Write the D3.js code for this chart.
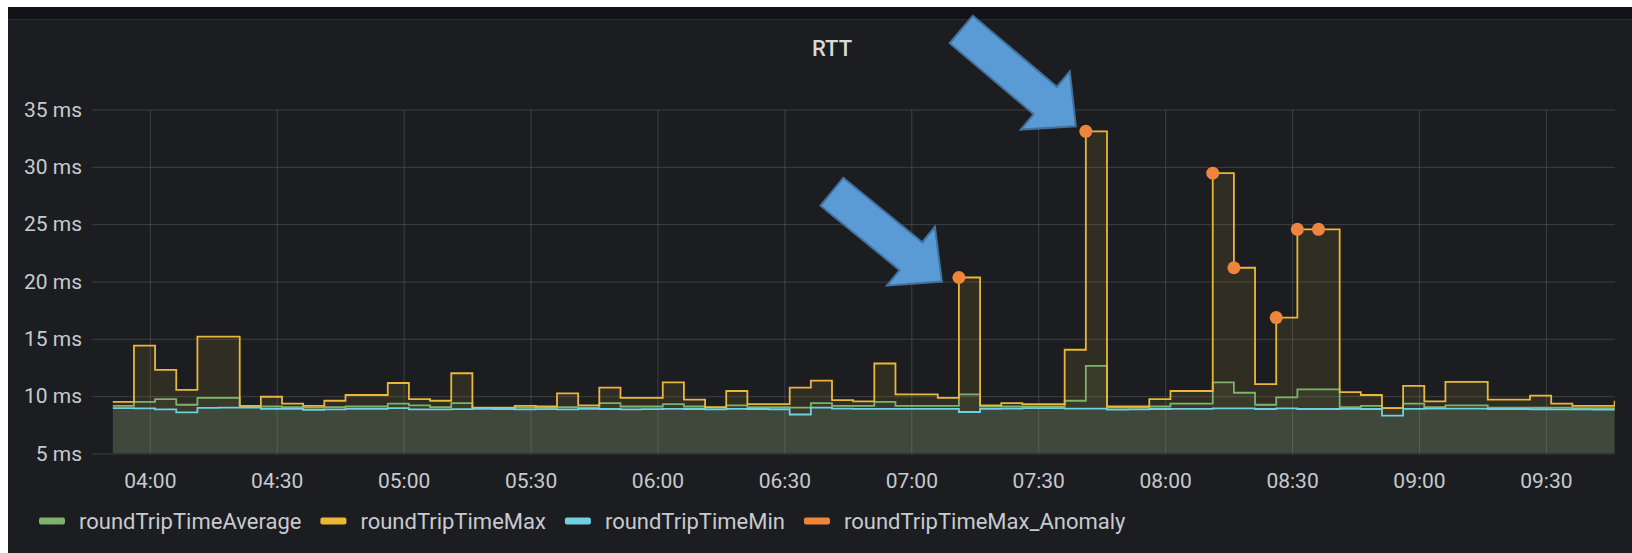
<!DOCTYPE html>
<html>
<head>
<meta charset="utf-8">
<script src="https://cdn.jsdelivr.net/npm/d3@7"></script>
<style>
  body { margin: 0; background: #ffffff; }
  svg { display: block; font-family: Roboto, "Noto Sans", sans-serif; }
</style>
</head>
<body>
<div id="chart"></div>
<script>
// RTT samples, one every 5 minutes, first one at 03:51:15
const firstSample = new Date(2021, 0, 1, 3, 51, 15);
const sampleMinutes = 5;

const rttMax = [9.5, 14.4, 12.3, 10.55, 15.2, 15.2, 9.15, 9.95, 9.35, 9.15,
  9.6, 10.1, 10.1, 11.15, 9.75, 9.6, 12.0, 9.0, 9.0, 9.15,
  9.1, 10.25, 9.2, 10.75, 9.85, 9.85, 11.2, 9.7, 9.05, 10.45,
  9.3, 9.3, 10.75, 11.35, 9.65, 9.55, 12.85, 10.15, 10.15, 9.85,
  20.35, 9.2, 9.4, 9.3, 9.3, 14.05, 33.1, 9.1, 9.1, 9.75,
  10.45, 10.45, 29.45, 21.2, 11.05, 16.85, 24.55, 24.55, 10.35, 10.1,
  8.95, 10.9, 9.55, 11.25, 11.25, 9.7, 9.7, 10.05, 9.35, 9.15,
  9.15, 9.6];

const rttAvg = [9.15, 9.5, 9.75, 9.25, 9.85, 9.85, 9.1, 9.1, 9.05, 9.0,
  9.05, 9.1, 9.1, 9.35, 9.2, 9.05, 9.4, 8.95, 8.95, 9.0,
  9.0, 9.05, 9.0, 9.4, 9.1, 9.1, 9.3, 9.1, 9.0, 9.2,
  9.05, 9.05, 9.0, 9.4, 9.15, 9.15, 9.5, 9.15, 9.15, 9.15,
  10.15, 9.1, 9.1, 9.1, 9.1, 9.6, 12.65, 9.0, 9.0, 9.1,
  9.35, 9.35, 11.2, 10.3, 9.25, 9.9, 10.6, 10.6, 9.05, 9.15,
  8.95, 9.35, 9.05, 9.2, 9.2, 9.0, 9.0, 9.0, 9.0, 8.95,
  8.95, 9.0];

const rttMin = [8.95, 8.93, 8.85, 8.58, 8.98, 9.0, 9.0, 8.9, 8.9, 8.8,
  8.85, 8.9, 8.9, 8.95, 8.85, 8.85, 8.87, 8.9, 8.88, 8.85,
  8.87, 8.85, 8.9, 8.88, 8.85, 8.87, 8.9, 8.88, 8.85, 8.9,
  8.88, 8.86, 8.4, 9.0, 8.92, 8.9, 8.9, 8.9, 8.9, 8.9,
  8.62, 8.9, 8.92, 8.95, 8.95, 8.92, 8.92, 8.82, 8.84, 8.88,
  8.9, 8.9, 8.93, 8.93, 8.88, 8.93, 8.88, 8.88, 8.9, 8.88,
  8.3, 8.9, 8.92, 8.92, 8.92, 8.88, 8.88, 8.86, 8.84, 8.84,
  8.82, 8.82];

// anomaly detector hits (sample index, value)
const anomalyIndex = [40, 46, 52, 53, 55, 56, 57];
const anomalyValues = [20.35, 33.1, 29.45, 21.2, 16.85, 24.55, 24.55];

const yTicks = [5, 10, 15, 20, 25, 30, 35];
const seriesNames = ["roundTripTimeAverage", "roundTripTimeMax", "roundTripTimeMin", "roundTripTimeMax_Anomaly"];
const seriesColors = ["#7EB26D", "#EAB839", "#6ED0E0", "#EF843C"];

// blue call-out arrows pointing at the first two anomalies
const callouts = [
  { anomaly: 0, dx: -17, dy: 4, angle: 39.2, len: 142 },
  { anomaly: 1, dx: -10, dy: -5, angle: 40.2, len: 150 }
];

const W = 1632, H = 553;
const plot = { left: 92, right: 1615, top: 109.5, bottom: 453.5 };

const times = rttMax.map((d, i) => d3.timeMinute.offset(firstSample, i * sampleMinutes));

const svg = d3.select('#chart')
  .append('svg')
  .attr('width', W)
  .attr('height', H);

// panel
svg.append('rect')
  .attr('x', 8).attr('y', 7)
  .attr('width', W - 8).attr('height', H - 7)
  .attr('fill', '#1b1d21');
svg.append('rect')
  .attr('x', 8).attr('y', 7)
  .attr('width', W - 8).attr('height', 12.5)
  .attr('fill', '#121317');
svg.append('line')
  .attr('x1', 8).attr('x2', W)
  .attr('y1', 19.5).attr('y2', 19.5)
  .attr('stroke', '#2a2c31');

// scales
const x = d3.scaleTime()
  .domain([new Date(2021, 0, 1, 3, 46, 20), new Date(2021, 0, 1, 9, 46, 20)])
  .range([plot.left, plot.right]);

const y = d3.scaleLinear()
  .domain([5, 35])
  .range([plot.bottom, plot.top]);

// axes + grid
const gridColor = 'rgba(255,255,255,0.15)';
const labelColor = '#c8cacf';

const yAxis = svg.append('g')
  .attr('transform', `translate(${plot.left},0)`)
  .call(d3.axisLeft(y).tickValues(yTicks).tickSize(-(plot.right - plot.left)).tickPadding(10).tickFormat(d => d + ' ms'));
yAxis.select('.domain').remove();
yAxis.selectAll('.tick line').attr('stroke', gridColor);
yAxis.selectAll('.tick text')
  .attr('fill', labelColor)
  .style('font-size', '21px')
  .style('font-family', 'Roboto, sans-serif');

const xAxis = svg.append('g')
  .attr('transform', `translate(0,${plot.bottom})`)
  .call(d3.axisBottom(x).ticks(d3.timeMinute.every(30)).tickSize(-(plot.bottom - plot.top)).tickPadding(20).tickFormat(d3.timeFormat('%H:%M')));
xAxis.select('.domain').remove();
xAxis.selectAll('.tick line').attr('stroke', gridColor);
xAxis.selectAll('.tick text')
  .attr('fill', labelColor)
  .style('font-size', '21px')
  .style('font-family', 'Roboto, sans-serif');

// series
svg.append('clipPath').attr('id', 'plotclip')
  .append('rect')
  .attr('x', plot.left).attr('y', plot.top)
  .attr('width', plot.right - plot.left).attr('height', plot.bottom - plot.top);

const chart = svg.append('g').attr('clip-path', 'url(#plotclip)');

const series = [rttAvg, rttMax, rttMin];

const area = d3.area()
  .curve(d3.curveStepAfter)
  .x((d, i) => x(times[i]))
  .y0(plot.bottom)
  .y1(d => y(d));

const line = d3.line()
  .curve(d3.curveStepAfter)
  .x((d, i) => x(times[i]))
  .y(d => y(d));

series.forEach((s, i) => {
  chart.append('path')
    .datum(s)
    .attr('d', area)
    .attr('fill', seriesColors[i])
    .attr('fill-opacity', 0.1);
});

series.forEach((s, i) => {
  chart.append('path')
    .datum(s)
    .attr('d', line)
    .attr('fill', 'none')
    .attr('stroke', seriesColors[i])
    .attr('stroke-width', 1.8);
});

// anomaly points
svg.append('g').selectAll('circle')
  .data(anomalyIndex)
  .enter()
  .append('circle')
  .attr('cx', d => x(times[d]))
  .attr('cy', (d, i) => y(anomalyValues[i]))
  .attr('r', 6.5)
  .attr('fill', seriesColors[3]);

// call-out arrows
function arrowPoints(tip, angleDeg, len, shaftW, headW, headL) {
  const a = angleDeg * Math.PI / 180;
  const ux = Math.cos(a), uy = Math.sin(a), vx = -uy, vy = ux;
  const local = [[0, -shaftW / 2], [len - headL, -shaftW / 2], [len - headL, -headW / 2], [len, 0],
    [len - headL, headW / 2], [len - headL, shaftW / 2], [0, shaftW / 2]];
  return local.map(([u, v]) => [tip[0] + (u - len) * ux + v * vx, tip[1] + (u - len) * uy + v * vy]);
}

svg.append('g').selectAll('polygon')
  .data(callouts)
  .enter()
  .append('polygon')
  .attr('points', d => {
    const k = anomalyIndex[d.anomaly];
    const tip = [x(times[k]) + d.dx, y(anomalyValues[d.anomaly]) + d.dy];
    return arrowPoints(tip, d.angle, d.len, 36, 76, 40).map(p => p.join(',')).join(' ');
  })
  .attr('fill', '#5b9bd5')
  .attr('stroke', '#41719c')
  .attr('stroke-width', 2)
  .attr('stroke-linejoin', 'miter');

// title
svg.append('text')
  .attr('x', 832)
  .attr('y', 56)
  .attr('text-anchor', 'middle')
  .attr('fill', '#d8d9da')
  .style('font-size', '22px')
  .style('font-weight', 500)
  .text('RTT');

// legend
const legend = svg.append('g').attr('transform', 'translate(39,521)');
let lx = 0;
seriesNames.forEach((name, i) => {
  legend.append('rect')
    .attr('x', lx).attr('y', -3.5)
    .attr('width', 26).attr('height', 7)
    .attr('rx', 2)
    .attr('fill', seriesColors[i]);
  const t = legend.append('text')
    .attr('x', lx + 40)
    .attr('y', 0)
    .attr('dy', '0.35em')
    .attr('fill', labelColor)
    .style('font-size', '22px')
    .text(name);
  lx += 40 + t.node().getComputedTextLength() + 19;
});
</script>
</body>
</html>
